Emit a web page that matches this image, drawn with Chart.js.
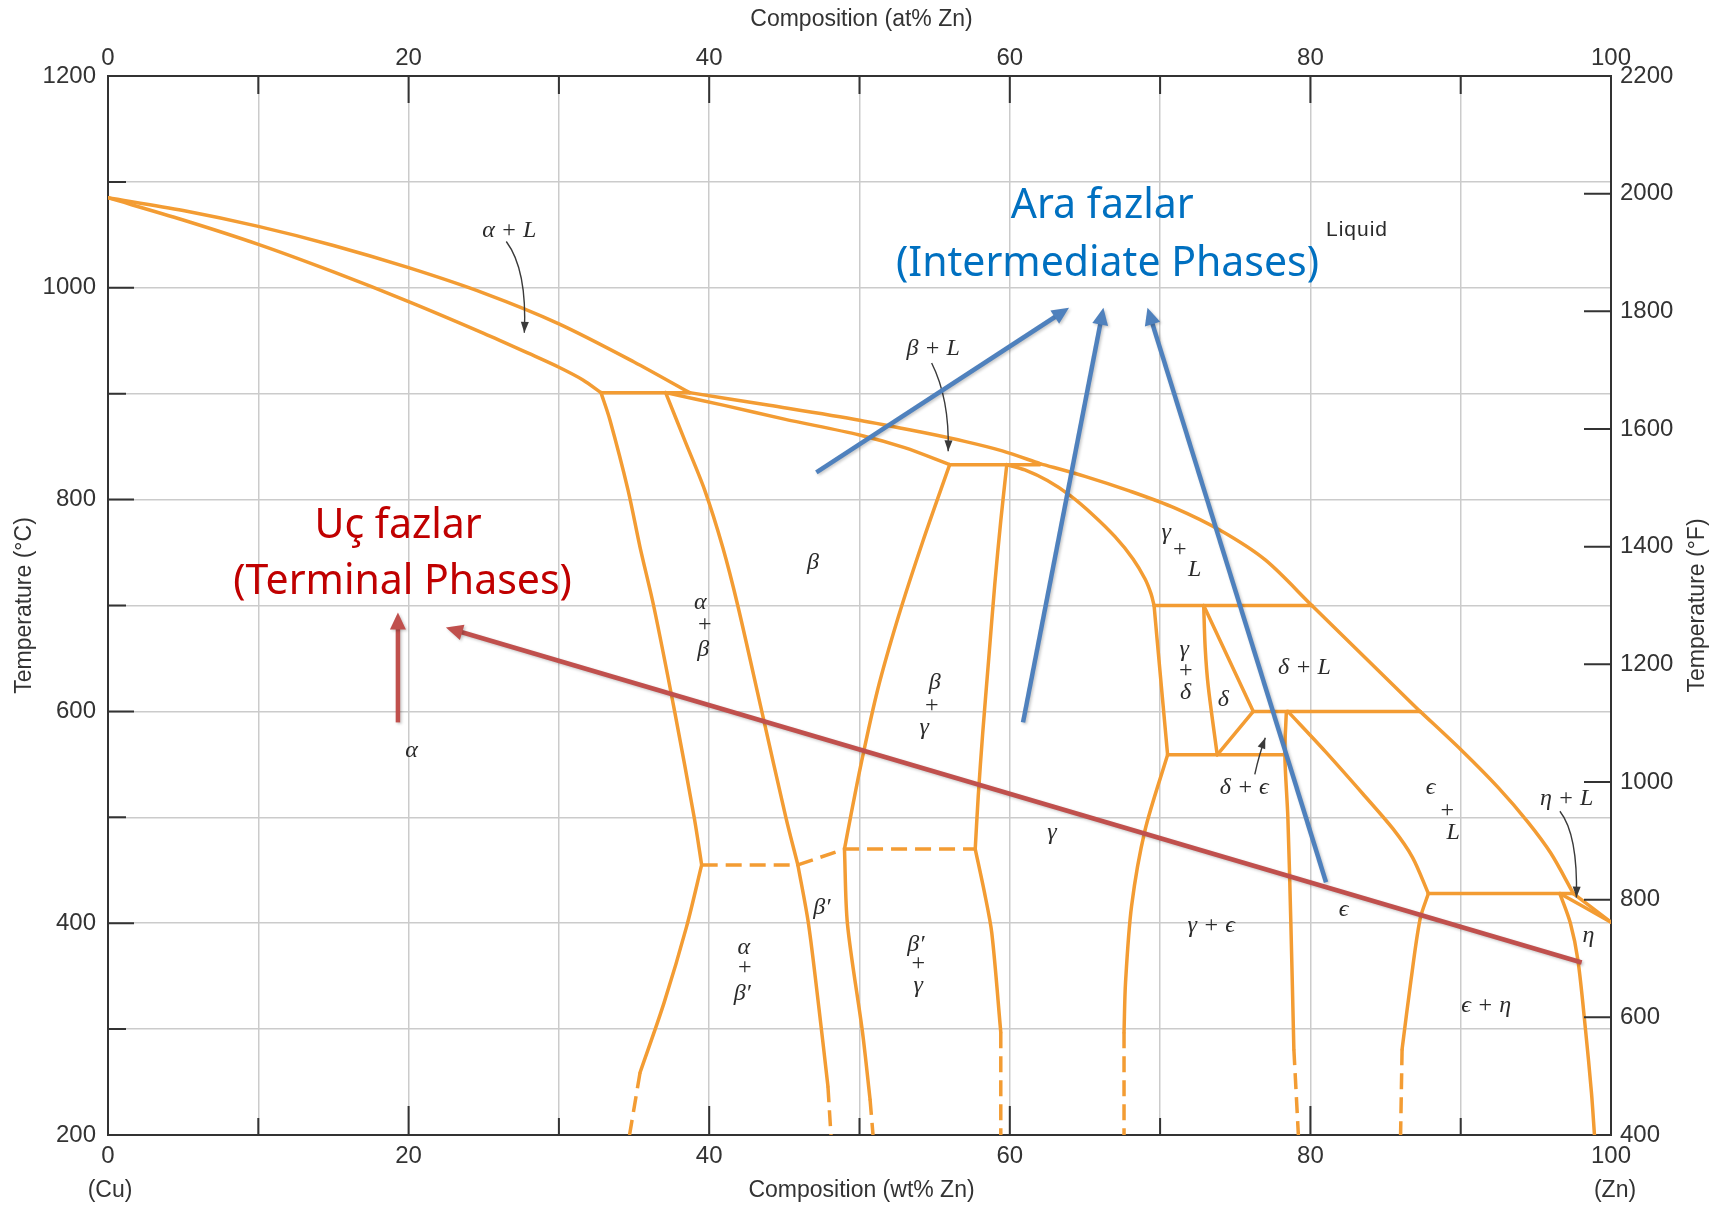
<!DOCTYPE html>
<html>
<head>
<meta charset="utf-8">
<title>Cu–Zn phase diagram</title>
<script src="https://cdn.jsdelivr.net/npm/chart.js@4.4.1/dist/chart.umd.min.js"></script>
<style>
  html, body { margin: 0; padding: 0; background: #fff; }
  canvas { display: block; }
</style>
</head>
<body>
<canvas id="cuzn" width="1714" height="1205"></canvas>
<script>
// Cu–Zn equilibrium diagram: composition (wt% Zn) vs temperature (°C)

// axis ranges / ticks
const WT_RANGE = [0, 100];
const TC_RANGE = [200, 1200];
const TF_RANGE = [400, 2200];

// liquidus and solidus curves, [wt% Zn, °C]
const liquidusAlpha = [[0,1085],[5,1073],[10,1058],[15,1040],[20,1019],[25,995],[30,966],[35,930],[38.7,901]];
const solidusAlpha  = [[0,1085],[5,1064],[10,1041],[15,1015],[20,987],[25,957],[28,938],[30,925],[31.6,913],[32.8,901]];
const liquidusBeta  = [[38.7,901],[44,889],[50,875],[54,864],[57,855],[59.5,846],[62,834]];
const solidusBeta   = [[37.1,901],[41,889],[45,876],[50,861],[53,849],[56,833]];
const liquidusGamma = [[62,834],[65,822],[68,808],[71,792],[74,771],[77,743],[80.1,700]];
const solidusGamma  = [[59.8,833],[61,828],[62.5,818],[64,804],[65.5,786],[67,765],[68.2,744],[69,725],[69.4,711],[69.6,700]];
const liquidusDelta = [[80.1,700],[83.7,650],[87.3,600]];
const liquidusEps   = [[87.3,600],[90,564],[92.5,528],[94.5,495],[96,466],[97.5,428]];
const liquidusZn    = [[97.5,428],[100,401]];
const solidusEta    = [[96.6,428],[100,401]];

// solvus / phase-field boundaries
const alphaUpper    = [[32.8,901],[33.4,875],[34.6,809],[35.4,755],[36.3,700],[37.7,600],[39.0,500],[39.5,455]];
const alphaLower    = [[39.5,455],[38.5,397],[37.0,325],[35.4,259]];
const alphaDash     = [[35.4,259],[34.7,200]];
const betaUpper     = [[37.1,901],[38.4,855],[39.7,809],[40.9,755],[41.9,700],[43.5,600],[45.1,500],[45.9,455]];
const betaPrime     = [[45.9,455],[46.6,400],[47.3,320],[47.9,246]];
const betaPrimeDash = [[47.9,246],[48.1,200]];
const bgUpper       = [[56,833],[54.2,760],[52.6,690],[51.2,620],[50.1,550],[49.4,500],[49.0,470]];
const bgLower       = [[49.0,470],[49.2,399],[50.2,297],[50.7,234]];
const bgDash        = [[50.7,234],[50.9,200]];
const gammaLUpper   = [[59.8,833],[59.4,780],[59.0,720],[58.6,650],[58.2,580],[57.9,520],[57.7,470]];
const gammaLLower   = [[57.7,470],[58.3,430],[58.8,391],[59.4,297]];
const gammaLDash    = [[59.4,297],[59.4,200]];
const gammaRUpper   = [[69.6,700],[69.8,668],[70.5,559]];
const gammaRLower   = [[70.5,559],[69.0,488],[68.1,416],[67.7,344],[67.6,297]];
const gammaRDash    = [[67.6,297],[67.6,200]];
const deltaLeft     = [[72.9,700],[73.0,660],[73.2,624],[73.8,559]];
const deltaRight    = [[72.9,700],[76.2,600]];
const deltaLow      = [[76.2,600],[73.8,559]];
const epsLeft       = [[78.4,600],[78.3,559],[78.5,500],[78.7,400],[78.9,281]];
const epsLeftDash   = [[78.9,281],[79.2,200]];
const epsRUpper     = [[78.5,600],[81,562],[83.5,522],[85.5,489],[86.8,462],[87.85,428]];
const epsRLower     = [[87.85,428],[87.3,404],[86.7,347],[86.1,281]];
const epsRDash      = [[86.1,281],[86.0,200]];
const etaLeft       = [[96.6,428],[97.3,400],[97.8,365],[98.3,300],[98.7,240],[98.9,200]];

// invariant isotherms: [from wt%, to wt%, °C]
const isotherms = [[32.8,38.7,901],[56,62,833],[69.6,80.1,700],[76.2,87.3,600],[70.5,78.3,559],[87.85,97.5,428]];
// beta -> beta' ordering (dashed)
const orderingLine = [[39.5,455],[45.9,455],[49.0,470],[57.7,470]];

// phase field labels: [text, wt%, °C]
const phaseLabels = [
  ['α + L', 26.7, 1054], ['β + L', 54.9, 942.5], ['β', 46.9, 740],
  ['α', 39.4, 702.5], ['+', 39.7, 682], ['β', 39.6, 658.5],
  ['β', 55.0, 627], ['+', 54.8, 605.7], ['γ', 54.3, 584.6],
  ['α', 20.2, 562.6],
  ['γ', 70.4, 768.6], ['+', 71.3, 752.8], ['L', 72.3, 734],
  ['γ', 71.6, 658.5], ['+', 71.7, 638], ['δ', 71.7, 617.6],
  ['δ', 74.2, 611.3], ['δ + L', 79.6, 641.2], ['δ + ϵ', 75.6, 528],
  ['γ', 62.8, 485.6], ['ϵ', 82.2, 413.2], ['γ + ϵ', 73.4, 397.5],
  ['ϵ', 88.0, 528], ['+', 89.1, 506], ['L', 89.5, 485.6],
  ['η + L', 97.05, 518], ['η', 98.5, 388], ['ϵ + η', 91.7, 322],
  ['β′', 47.5, 414.8],
  ['α', 42.3, 377], ['+', 42.35, 358.2], ['β′', 42.2, 333],
  ['β′', 53.75, 380], ['+', 53.9, 361.3], ['γ', 53.9, 340.9]
];
const liquidLabel = ['Liquid', 83.1, 1054];

// thin leader arrows: start, control, tip
const leaders = [
  [[26.5,1043.7],[27.9,1017],[27.7,957.5]],
  [[54.8,929],[56.0,895],[55.9,845.6]],
  [[76.3,540.6],[76.6,560],[77.0,575.2]],
  [[96.6,505.7],[97.8,484],[97.7,424.2]]
];

// callouts: tail -> tip
const intermediateArrows = [[[47.13,825.8],[63.94,981.1]], [[60.88,589.6],[66.23,981.1]], [[81.04,438.7],[69.16,981.1]]];
const terminalArrows = [[[19.29,589.6],[19.29,693.4]], [[98.05,362.9],[22.48,679.2]]];
const intermediateText = [['Ara fazlar', 66.15, 1066], ['(Intermediate Phases)', 66.5, 1011.3]];
const terminalText = [['Uç fazlar', 19.3, 763.9], ['(Terminal Phases)', 19.6, 710.4]];

const ORANGE = '#f39c33';
const AXIS_INK = '#333';
const SANS = "'Liberation Sans', Arial, sans-serif";
const SERIF = "'Liberation Serif', 'DejaVu Serif', serif";

function boundary(pts, extra) {
  return Object.assign({
    data: pts.map(p => ({ x: p[0], y: p[1] })),
    showLine: true, borderColor: ORANGE, borderWidth: 3.5, pointRadius: 0,
    tension: 0.3, fill: false, borderCapStyle: 'round', borderJoinStyle: 'round'
  }, extra || {});
}
const DASH = { borderDash: [16, 8], borderCapStyle: 'butt', tension: 0 };

const datasets = [
  liquidusAlpha, solidusAlpha, liquidusBeta, solidusBeta, liquidusGamma, solidusGamma,
  liquidusDelta, liquidusEps, liquidusZn, solidusEta,
  alphaUpper, alphaLower, betaUpper, betaPrime, bgUpper, bgLower, gammaLUpper, gammaLLower,
  gammaRUpper, gammaRLower, deltaLeft, deltaRight, deltaLow, epsLeft, epsRUpper, epsRLower, etaLeft
].map(p => boundary(p));
isotherms.forEach(t => datasets.push(boundary([[t[0], t[2]], [t[1], t[2]]], { tension: 0 })));
[alphaDash, betaPrimeDash, bgDash, gammaLDash, gammaRDash, epsLeftDash, epsRDash, orderingLine]
  .forEach(p => datasets.push(boundary(p, DASH)));

function arrowHead(ctx, x, y, ang, len, half) {
  ctx.beginPath();
  ctx.moveTo(x, y);
  ctx.lineTo(x - len * Math.cos(ang) + half * Math.sin(ang), y - len * Math.sin(ang) - half * Math.cos(ang));
  ctx.lineTo(x - len * Math.cos(ang) - half * Math.sin(ang), y - len * Math.sin(ang) + half * Math.cos(ang));
  ctx.closePath();
  ctx.fill();
}

function callout(ctx, x0, y0, x1, y1, color) {
  const ang = Math.atan2(y1 - y0, x1 - x0);
  const len = 17;
  ctx.strokeStyle = color; ctx.fillStyle = color;
  ctx.lineWidth = 4.5; ctx.lineCap = 'butt';
  ctx.beginPath();
  ctx.moveTo(x0, y0);
  ctx.lineTo(x1 - (len - 2) * Math.cos(ang), y1 - (len - 2) * Math.sin(ang));
  ctx.stroke();
  arrowHead(ctx, x1, y1, ang, len, 8);
}

const phaseDecor = {
  id: 'phaseDecor',
  afterDatasetsDraw(chart) {
    const { ctx, scales } = chart;
    const px = v => scales.x.getPixelForValue(v);
    const py = v => scales.y.getPixelForValue(v);
    ctx.save();

    // phase labels
    ctx.fillStyle = '#2b2b2b';
    ctx.textAlign = 'center';
    ctx.textBaseline = 'middle';
    ctx.font = 'italic 24px ' + SERIF;
    phaseLabels.forEach(([t, w, c]) => ctx.fillText(t, px(w), py(c)));
    ctx.font = '21px ' + SANS;
    ctx.letterSpacing = '1px';
    ctx.fillText(liquidLabel[0], px(liquidLabel[1]), py(liquidLabel[2]));
    ctx.letterSpacing = '0px';

    // leader arrows
    ctx.strokeStyle = '#3a3a3a'; ctx.fillStyle = '#3a3a3a'; ctx.lineWidth = 1.4;
    leaders.forEach(([a, b, c]) => {
      const ax = px(a[0]), ay = py(a[1]), bx = px(b[0]), by = py(b[1]), cx = px(c[0]), cy = py(c[1]);
      ctx.beginPath(); ctx.moveTo(ax, ay); ctx.quadraticCurveTo(bx, by, cx, cy); ctx.stroke();
      arrowHead(ctx, cx, cy, Math.atan2(cy - by, cx - bx), 11, 4);
    });

    // callout arrows and text
    ctx.shadowColor = 'rgba(0,0,0,0.22)'; ctx.shadowBlur = 3; ctx.shadowOffsetX = 1.5; ctx.shadowOffsetY = 1.5;
    intermediateArrows.forEach(([s, e]) => callout(ctx, px(s[0]), py(s[1]), px(e[0]), py(e[1]), '#4f81bd'));
    terminalArrows.forEach(([s, e]) => callout(ctx, px(s[0]), py(s[1]), px(e[0]), py(e[1]), '#c0504d'));
    ctx.shadowColor = 'transparent';

    ctx.textBaseline = 'alphabetic';
    ctx.font = "41px 'Noto Sans', 'Open Sans', sans-serif";
    ctx.fillStyle = '#0070c0';
    intermediateText.forEach(([t, w, c]) => ctx.fillText(t, px(w), py(c)));
    ctx.fillStyle = '#c00000';
    terminalText.forEach(([t, w, c]) => ctx.fillText(t, px(w), py(c)));
    ctx.restore();
  },
  afterDraw(chart) {
    const { ctx, chartArea: a, scales } = chart;
    ctx.save();
    ctx.strokeStyle = AXIS_INK; ctx.lineWidth = 2;
    ctx.beginPath();
    // inward tick marks
    for (let v = 10; v < 100; v += 10) {
      const xb = scales.x.getPixelForValue(v);
      ctx.moveTo(xb, a.bottom); ctx.lineTo(xb, a.bottom - (v % 20 === 0 ? 29 : 17));
      const xt = scales.x2.getPixelForValue(v);
      ctx.moveTo(xt, a.top); ctx.lineTo(xt, a.top + (v % 20 === 0 ? 27 : 18));
    }
    for (let v = 300; v < 1200; v += 100) {
      const y = scales.y.getPixelForValue(v);
      ctx.moveTo(a.left, y); ctx.lineTo(a.left + (v % 200 === 0 ? 26 : 18), y);
    }
    for (let v = 600; v < 2200; v += 200) {
      const y = scales.y1.getPixelForValue(v);
      ctx.moveTo(a.right, y); ctx.lineTo(a.right - 27, y);
    }
    ctx.stroke();

    // axis titles
    const cx = (a.left + a.right) / 2 + 2;
    ctx.fillStyle = AXIS_INK;
    ctx.font = '23px ' + SANS;
    ctx.textAlign = 'center'; ctx.textBaseline = 'middle';
    ctx.fillText('Composition (at% Zn)', cx, 20);
    ctx.fillText('Composition (wt% Zn)', cx, 1191);
    ctx.fillText('(Cu)', a.left + 2, 1191);
    ctx.fillText('(Zn)', a.right + 4, 1191);
    [[25, 'Temperature (°C)'], [1698, 'Temperature (°F)']].forEach(([x, t]) => {
      ctx.save(); ctx.translate(x, (a.top + a.bottom) / 2); ctx.rotate(-Math.PI / 2);
      ctx.fillText(t, 0, 0); ctx.restore();
    });
    ctx.restore();
  }
};

const tickFont = { family: SANS, size: 24 };
const everyOther20 = v => (v % 20 === 0 ? String(v) : '');
const gridStyle = { color: '#cbcbcb', lineWidth: 1.5, drawTicks: false };
const borderStyle = { color: AXIS_INK, width: 2 };

new Chart(document.getElementById('cuzn').getContext('2d'), {
  type: 'scatter',
  data: { datasets: datasets },
  options: {
    responsive: false, animation: false, devicePixelRatio: 1,
    layout: { padding: 0 },
    plugins: { legend: { display: false }, tooltip: { enabled: false } },
    scales: {
      x: {
        type: 'linear', position: 'bottom', min: WT_RANGE[0], max: WT_RANGE[1],
        afterFit: s => { s.height = 70; },
        ticks: { stepSize: 10, autoSkip: false, maxRotation: 0, padding: 7, color: AXIS_INK, font: tickFont, callback: everyOther20 },
        grid: gridStyle, border: borderStyle
      },
      x2: {
        type: 'linear', position: 'top', min: WT_RANGE[0], max: WT_RANGE[1],
        afterFit: s => { s.height = 76; },
        ticks: { stepSize: 10, autoSkip: false, maxRotation: 0, padding: 3, color: AXIS_INK, font: tickFont, callback: everyOther20 },
        grid: { drawOnChartArea: false, drawTicks: false }, border: borderStyle
      },
      y: {
        type: 'linear', position: 'left', min: TC_RANGE[0], max: TC_RANGE[1],
        afterFit: s => { s.width = 108; },
        ticks: { stepSize: 100, autoSkip: false, padding: 12, color: AXIS_INK, font: tickFont, callback: v => (v % 200 === 0 ? String(v) : '') },
        grid: gridStyle, border: borderStyle
      },
      y1: {
        type: 'linear', position: 'right', min: TF_RANGE[0], max: TF_RANGE[1],
        afterFit: s => { s.width = 103; },
        ticks: { stepSize: 200, autoSkip: false, padding: 9, color: AXIS_INK, font: tickFont, callback: v => String(v) },
        grid: { drawOnChartArea: false, drawTicks: false }, border: borderStyle
      }
    }
  },
  plugins: [phaseDecor]
});
</script>
</body>
</html>
